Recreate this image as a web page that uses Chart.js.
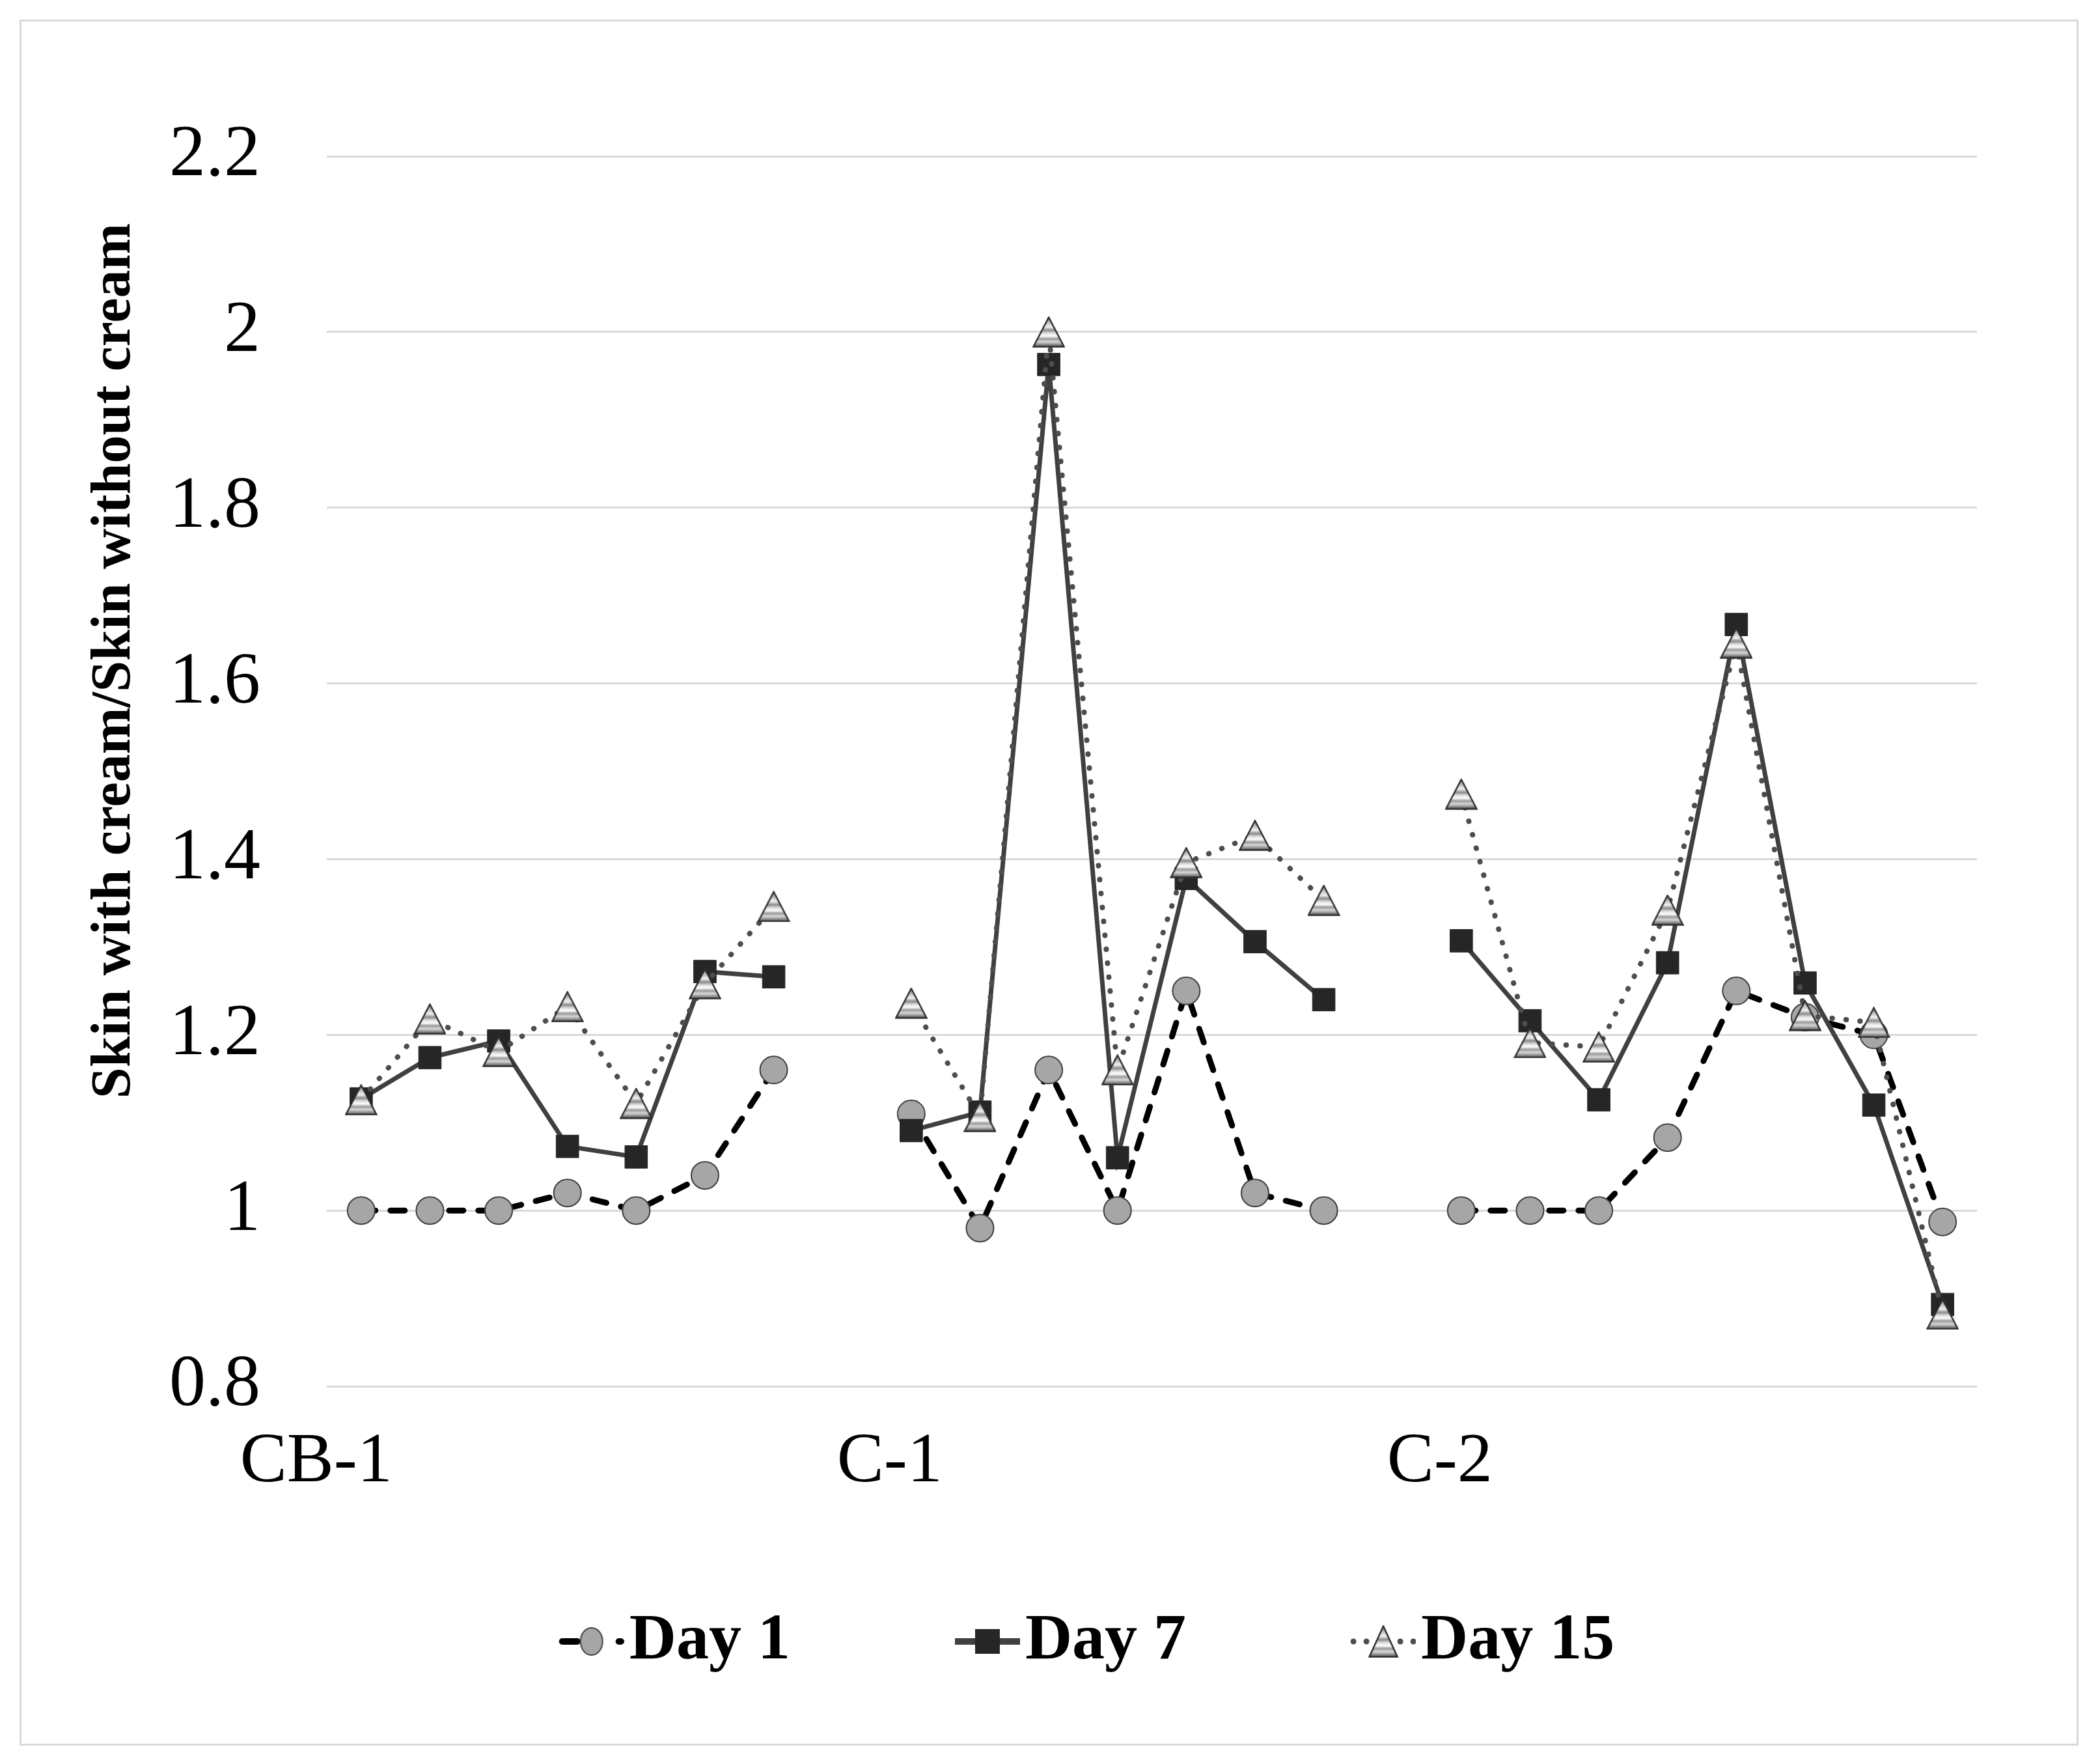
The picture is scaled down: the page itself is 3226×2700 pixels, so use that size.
<!DOCTYPE html>
<html lang="en">
<head>
<meta charset="UTF-8">
<title>Skin with cream / Skin without cream</title>
<script src="https://cdn.jsdelivr.net/npm/chart.js@4.4.1/dist/chart.umd.min.js"></script>
<style>
  html, body { margin: 0; padding: 0; background: #fff; }
  #wrap { width: 3226px; height: 2700px; }
</style>
</head>
<body>
<div id="wrap"><canvas id="mychart" width="3226" height="2700"></canvas></div>
<script>
// categories: three groups, one empty slot between them
const categories = [
  'CB-1', '', '', '', '', '', '', '',
  'C-1', '', '', '', '', '', '', '',
  'C-2', '', '', '', '', '', '', ''
];
const day1 = [1.00, 1.00, 1.00, 1.02, 1.00, 1.04, 1.16, null,
              1.11, 0.98, 1.16, 1.00, 1.25, 1.02, 1.00, null,
              1.00, 1.00, 1.00, 1.083, 1.25, 1.22, 1.20, 0.987];
const day7 = [1.127, 1.174, 1.193, 1.073, 1.061, 1.272, 1.266, null,
              1.091, 1.112, 1.963, 1.06, 1.378, 1.306, 1.24, null,
              1.307, 1.216, 1.126, 1.282, 1.667, 1.259, 1.12, 0.893];
const day15 = [1.126, 1.218, 1.181, 1.232, 1.122, 1.258, 1.346, null,
               1.236, 1.107, 2.00, 1.16, 1.396, 1.427, 1.353, null,
               1.474, 1.191, 1.186, 1.342, 1.646, 1.222, 1.214, 0.882];
const seriesNames = ['Day 1', 'Day 7', 'Day 15'];
const yTickLabels = ['0.8', '1', '1.2', '1.4', '1.6', '1.8', '2', '2.2'];
const yTitle = 'Skin with cream/Skin without cream';

const SERIF = '"Liberation Serif", "Times New Roman", serif';

// striped triangle marker, like the excel one
function makeTriangle(w, h) {
    const c = document.createElement('canvas');
    c.width = w; c.height = h;
    const g = c.getContext('2d');
    const grad = g.createLinearGradient(0, 2, 0, h - 2);
    grad.addColorStop(0, '#7d7d7d');
    grad.addColorStop(0.2, '#c8c8c8');
    grad.addColorStop(0.32, '#f2f2f2');
    grad.addColorStop(0.44, '#8a8a8a');
    grad.addColorStop(0.54, '#dcdcdc');
    grad.addColorStop(0.64, '#ffffff');
    grad.addColorStop(0.74, '#9a9a9a');
    grad.addColorStop(0.84, '#d8d8d8');
    grad.addColorStop(1, '#5f5f5f');
    g.beginPath();
    g.moveTo(w / 2, 1.5);
    g.lineTo(w - 1.5, h - 1.5);
    g.lineTo(1.5, h - 1.5);
    g.closePath();
    g.fillStyle = grad;
    g.fill();
    g.lineWidth = 2.5;
    g.strokeStyle = '#2e2e2e';
    g.stroke();
    return c;
}
const triMarker = makeTriangle(50, 48);

// legend icons: line sample + marker, drawn at the right end of a wide canvas
function legendIcon(kind) {
    const c = document.createElement('canvas');
    c.width = 385; c.height = 64;
    const g = c.getContext('2d');
    const x0 = c.width - 100, cx = c.width - 50, cy = c.height / 2;
    g.lineCap = 'round';
    if (kind === 'circle') {
        g.strokeStyle = '#000'; g.lineWidth = 10;
        g.beginPath(); g.moveTo(x0 + 5, cy); g.lineTo(x0 + 28, cy); g.stroke();
        g.beginPath(); g.moveTo(x0 + 92, cy); g.lineTo(x0 + 95, cy); g.stroke();
        g.beginPath(); g.ellipse(cx, cy, 17, 21, 0, 0, Math.PI * 2);
        g.fillStyle = '#a6a6a6'; g.fill();
        g.lineWidth = 2; g.strokeStyle = '#404040'; g.stroke();
    } else if (kind === 'rect') {
        g.lineCap = 'butt';
        g.strokeStyle = '#404040'; g.lineWidth = 10;
        g.beginPath(); g.moveTo(x0, cy); g.lineTo(x0 + 100, cy); g.stroke();
        g.fillStyle = '#262626';
        g.fillRect(cx - 19, cy - 19, 38, 38);
    } else {
        g.fillStyle = '#4d4d4d';
        [x0 + 4, x0 + 24, x0 + 76, x0 + 96].forEach(px => {
            g.beginPath(); g.arc(px, cy, 4.5, 0, Math.PI * 2); g.fill();
        });
        const t = makeTriangle(46, 50);
        g.drawImage(t, cx - 23, cy - 25);
    }
    return c;
}
const legendIcons = [legendIcon('circle'), legendIcon('rect'), legendIcon('tri')];

const framePlugin = {
    id: 'frame',
    beforeDraw(chart) {
        const {ctx, width, height} = chart;
        ctx.save();
        ctx.fillStyle = '#fff';
        ctx.fillRect(0, 0, width, height);
        ctx.strokeStyle = '#d9d9d9';
        ctx.lineWidth = 3;
        ctx.strokeRect(31.5, 31.5, 3160, 2648);
        ctx.restore();
    },
    afterDraw(chart) {
        // y title sits higher than the middle of the axis in the original
        const {ctx, chartArea} = chart;
        ctx.save();
        ctx.translate(chartArea.left - 303, chartArea.top + 775);
        ctx.rotate(-Math.PI / 2);
        ctx.font = 'bold 86px ' + SERIF;
        ctx.fillStyle = '#000';
        ctx.textAlign = 'center';
        ctx.textBaseline = 'alphabetic';
        ctx.fillText(yTitle, 0, 0);
        ctx.restore();
    }
};

Chart.defaults.font.family = SERIF;
Chart.defaults.color = '#000';

const ctx = document.getElementById('mychart').getContext('2d');
const myChart = new Chart(ctx, {
    type: 'line',
    data: {
        labels: categories,
        datasets: [{
            label: seriesNames[0],
            data: day1,
            order: 3,
            borderColor: '#000',
            borderWidth: 9,
            borderDash: [22, 23],
            borderCapStyle: 'round',
            pointStyle: 'circle',
            pointRadius: 21,
            pointBackgroundColor: '#a6a6a6',
            pointBorderColor: '#404040',
            pointBorderWidth: 2
        }, {
            label: seriesNames[1],
            data: day7,
            order: 2,
            borderColor: '#404040',
            borderWidth: 7,
            pointStyle: 'rect',
            pointRadius: 24.5,
            pointBackgroundColor: '#262626',
            pointBorderColor: '#262626',
            pointBorderWidth: 1
        }, {
            label: seriesNames[2],
            data: day15,
            order: 1,
            borderColor: '#4d4d4d',
            borderWidth: 8,
            borderDash: [0.5, 21],
            borderCapStyle: 'round',
            pointStyle: triMarker,
            pointRadius: 24
        }]
    },
    options: {
        responsive: false,
        devicePixelRatio: 1,
        animation: false,
        events: [],
        layout: {
            padding: {left: 59, right: 189, top: 240, bottom: 119}
        },
        scales: {
            x: {
                offset: true,
                border: {display: false},
                grid: {display: false, drawTicks: false},
                afterFit: (scale) => { scale.height = 332; },
                ticks: {
                    autoSkip: false,
                    maxRotation: 0,
                    align: 'end',
                    labelOffset: 48,
                    padding: 53,
                    color: '#000',
                    font: {size: 108}
                }
            },
            y: {
                min: 0.8,
                max: 2.2,
                border: {display: false},
                grid: {color: '#d9d9d9', lineWidth: 3, drawTicks: false},
                afterFit: (scale) => { scale.width = 443; },
                ticks: {
                    stepSize: 0.2,
                    padding: 102,
                    color: '#000',
                    font: {size: 112},
                    callback: (value, index) => yTickLabels[index]
                }
            }
        },
        plugins: {
            tooltip: {enabled: false},
            legend: {
                position: 'bottom',
                labels: {
                    usePointStyle: true,
                    pointStyleWidth: 301,
                    padding: 10,
                    color: '#000',
                    font: {size: 100, weight: 'bold'},
                    sort: (a, b) => a.datasetIndex - b.datasetIndex,
                    generateLabels: (chart) => chart.data.datasets.map((ds, i) => ({
                        text: ds.label,
                        datasetIndex: i,
                        pointStyle: legendIcons[i],
                        fillStyle: 'rgba(0,0,0,0)',
                        strokeStyle: 'rgba(0,0,0,0)',
                        lineWidth: 0,
                        fontColor: '#000',
                        hidden: false
                    }))
                }
            }
        }
    },
    plugins: [framePlugin]
});
</script>
</body>
</html>
